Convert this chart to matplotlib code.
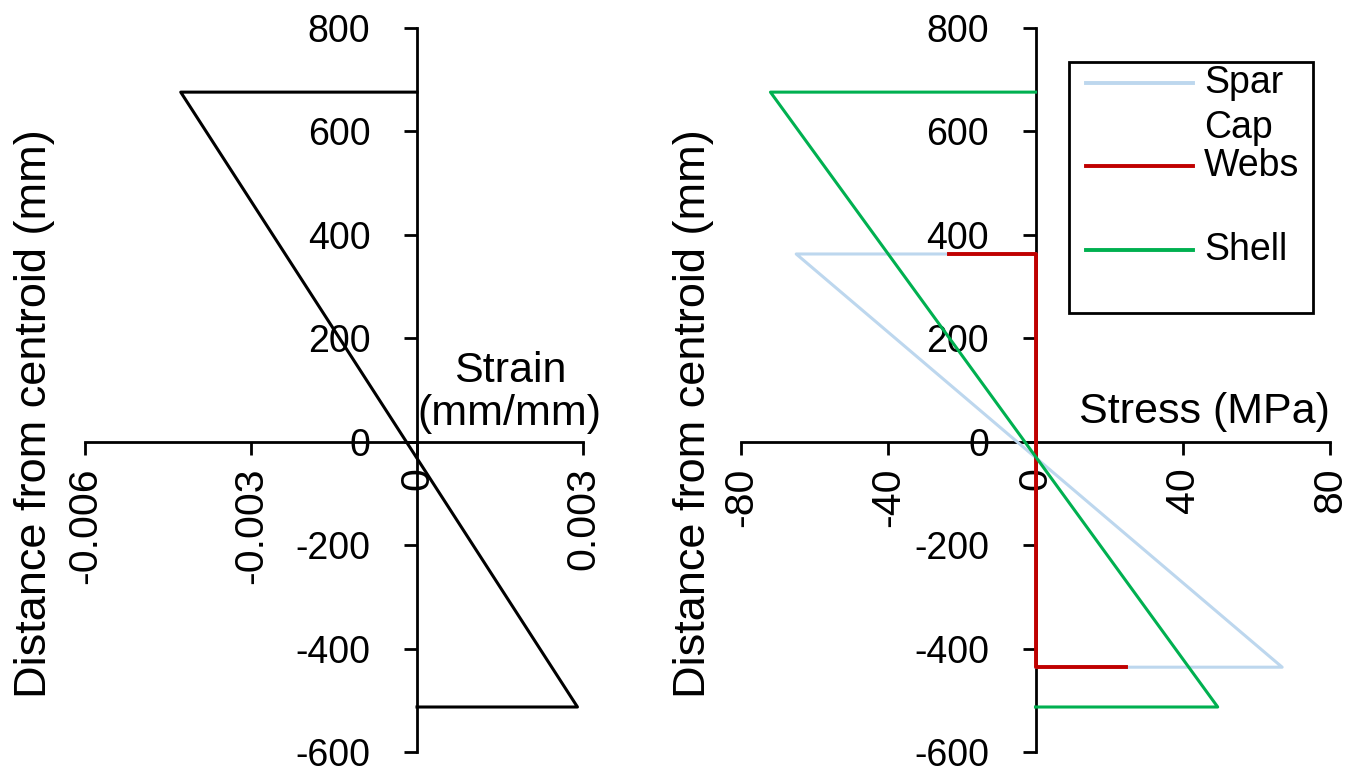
"""
Strain and stress profiles vs distance from centroid (two panels).
"""
import matplotlib
matplotlib.use('Agg')
import matplotlib.pyplot as plt
from matplotlib.lines import Line2D
from matplotlib.patches import Rectangle

plt.rcParams['font.family'] = ['Liberation Sans', 'DejaVu Sans']

# strain profile (left panel)
strain_x = [0, -0.00427, 0.0029, 0]
strain_y = [676, 676, -513, -513]

# stress profiles (right panel)
spar_x = [0, -65, 67, 0]
spar_y = [363, 363, -436, -436]
webs_x = [-23.6, 0, 0, 24.7]
webs_y = [363, 363, -436, -436]
shell_x = [0, -72, 49.5, 0]
shell_y = [676, 676, -513, -513]

strain_ticks = [-0.006, -0.003, 0, 0.003]
strain_ticklabels = ['-0.006', '-0.003', '0', '0.003']
stress_ticks = [-80, -40, 0, 40, 80]
y_ticks = [-600, -400, -200, 0, 200, 400, 600, 800]

W, H = 1349, 778
TICK_FS = 27
XTICK_FS = 29.5   # rotated labels look a bit taller in the source
LABEL_FS = 31
YLABEL_FS = 32.5

c_spar = '#BDD7EE'
c_webs = '#C00000'
c_shell = '#00B050'


def px(x, y):
    # pixel (from top-left) -> figure fraction
    return x / W, 1 - y / H


def style_axes(ax):
    for s in ['top', 'right']:
        ax.spines[s].set_visible(False)
    ax.spines['left'].set_position(('data', 0))
    ax.spines['bottom'].set_position(('data', 0))
    for s in ['left', 'bottom']:
        ax.spines[s].set_linewidth(2.0)
    ax.set_ylim(-600, 800)
    ax.set_yticks(y_ticks)
    ax.set_yticklabels([str(v) for v in y_ticks])
    ax.tick_params(axis='y', direction='out', length=9.5, width=2.0, pad=24, labelsize=TICK_FS)
    ax.tick_params(axis='x', direction='out', length=9.5, width=2.0, pad=9, labelsize=XTICK_FS,
                   labelrotation=90)
    ax.patch.set_visible(False)


fig = plt.figure(figsize=(W / 100, H / 100), dpi=100)

# left panel: strain
axl = fig.add_axes([85 / W, 26 / H, (583 - 85) / W, (752 - 28) / H])
style_axes(axl)
axl.plot(strain_x, strain_y, color='black', lw=2.2, zorder=3, clip_on=False)
axl.set_xlim(-0.006, 0.003)
axl.set_xticks(strain_ticks)
axl.set_xticklabels(strain_ticklabels)
axl.text(0.853, 0.496, 'Strain\n(mm/mm)', transform=axl.transAxes, ha='center', va='center',
         fontsize=LABEL_FS, linespacing=1.1)

# right panel: stress
axr = fig.add_axes([741 / W, 26 / H, (1330 - 741) / W, (752 - 28) / H])
style_axes(axr)
axr.plot(spar_x, spar_y, color=c_spar, lw=2.2, zorder=3, clip_on=False)
axr.plot(webs_x, webs_y, color=c_webs, lw=2.8, zorder=3, clip_on=False)
axr.plot(shell_x, shell_y, color=c_shell, lw=2.2, zorder=3, clip_on=False)
axr.set_xlim(-80, 80)
axr.set_xticks(stress_ticks)
axr.set_xticklabels([str(v) for v in stress_ticks])
axr.text(0.786, 0.470, 'Stress (MPa)', transform=axr.transAxes, ha='center', va='center',
         fontsize=LABEL_FS)

# y labels
for xp in (35, 693):
    fig.text(*px(xp, 414), 'Distance from centroid (mm)', rotation=90, ha='center', va='center',
             fontsize=YLABEL_FS)

# legend (drawn by hand so the line sits on the first text line)
x0, y0 = px(1069, 313)
x1, y1 = px(1313, 62)
fig.add_artist(Rectangle((x0, y0), x1 - x0, y1 - y0, transform=fig.transFigure,
                         fill=False, edgecolor='black', lw=2.0))
entries = [('Spar', c_spar, 83), ('Webs', c_webs, 166), ('Shell', c_shell, 250)]
for name, col, yy in entries:
    xa, ya = px(1086, yy)
    xb, _ = px(1193, yy)
    fig.add_artist(Line2D([xa, xb], [ya, ya], transform=fig.transFigure, color=col, lw=2.8))
    fig.text(*px(1204, yy), name, ha='left', va='center', fontsize=TICK_FS)
fig.text(*px(1204, 128), 'Cap', ha='left', va='center', fontsize=TICK_FS)

fig.savefig('out.png', dpi=100)
